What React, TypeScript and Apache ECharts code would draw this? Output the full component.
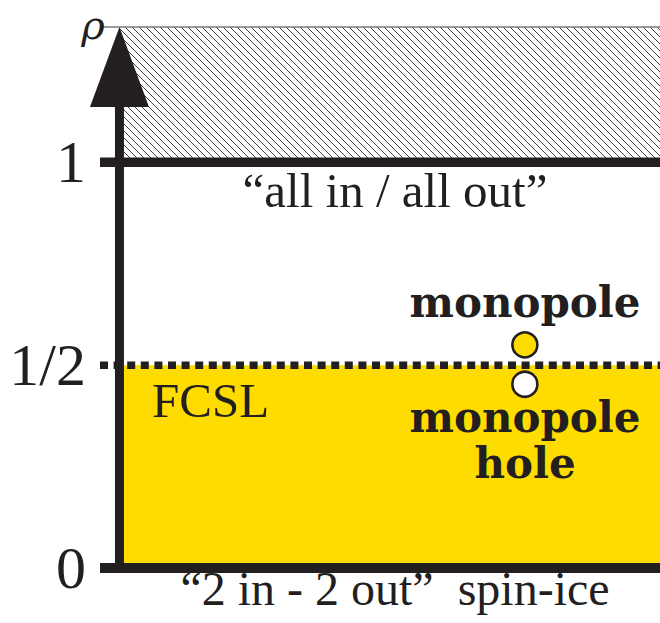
import React, { useEffect, useRef } from 'react';
import * as echarts from 'echarts';

// Axis range (rho) and the small left extension used for the tick stubs
const RHO_MAX = 4 / 3;
const X_MIN = -0.036;
const X_MAX = 1;

// Tick values and labels of the rho axis
const TICK_VALUES = [0, 0.5, 1];
const TICK_LABELS = ['0', '1/2', '1'];

// Levels
const LEVEL_ZERO = 0;
const LEVEL_HALF = 0.5;
const LEVEL_ONE = 1;
const AXIS_LINE_TOP = 1.2;

// Excitations [x, rho]
const MONOPOLE = [0.75, 0.55];
const MONOPOLE_HOLE = [0.75, 0.453];

const INK = '#231f20';
const YELLOW = '#ffdc00';
const SERIF = '"Liberation Serif", "Times New Roman", serif';
const BOLD_SERIF = '"DejaVu Serif", "Liberation Serif", serif';

function makeHatch(): HTMLCanvasElement {
  const s = 7;
  const c = document.createElement('canvas');
  c.width = s;
  c.height = s;
  const ctx = c.getContext('2d')!;
  ctx.fillStyle = '#ffffff';
  ctx.fillRect(0, 0, s, s);
  ctx.strokeStyle = '#404040';
  ctx.lineWidth = 1;
  for (const k of [-s, 0, s]) {
    ctx.beginPath();
    ctx.moveTo(k, 0);
    ctx.lineTo(k + s, s);
    ctx.stroke();
  }
  return c;
}

function hLine(name: string, rho: number, width: number, color: string, type: any, z: number) {
  return {
    name,
    type: 'line',
    data: [
      [X_MIN, rho],
      [X_MAX, rho],
    ],
    symbol: 'none',
    clip: false,
    silent: true,
    z,
    lineStyle: { width, color, type, cap: 'butt', opacity: 1 },
  };
}

export default function App() {
  const ref = useRef<HTMLDivElement>(null);

  useEffect(() => {
    document.body.style.margin = '0';
    const chart = echarts.init(ref.current!, null, { renderer: 'svg' });
    const hatch = makeHatch();

    const option: any = {
      animation: false,
      backgroundColor: '#ffffff',
      grid: { left: 100, right: 0, top: 27, bottom: 55, containLabel: false },
      xAxis: { type: 'value', min: X_MIN, max: X_MAX, show: false },
      yAxis: {
        type: 'value',
        min: 0,
        max: RHO_MAX,
        interval: 0.5,
        axisLine: { show: false, onZero: false },
        axisTick: { show: false },
        splitLine: { show: false },
        axisLabel: {
          margin: 14,
          fontSize: 60,
          fontFamily: SERIF,
          color: INK,
          formatter: (v: number) => {
            const i = TICK_VALUES.findIndex((t) => Math.abs(t - v) < 1e-9);
            return i >= 0 ? TICK_LABELS[i] : '';
          },
        },
      },
      series: [
        {
          name: 'regions',
          type: 'line',
          data: [[X_MIN, LEVEL_ZERO]],
          symbol: 'none',
          silent: true,
          z: 1,
          lineStyle: { width: 0 },
          markArea: {
            silent: true,
            label: { show: false },
            data: [
              [
                { coord: [0, LEVEL_ZERO], itemStyle: { color: YELLOW, opacity: 1 } },
                { coord: [X_MAX, LEVEL_HALF] },
              ],
              [
                {
                  coord: [0, LEVEL_ONE],
                  itemStyle: {
                    opacity: 1,
                    color: { image: hatch, repeat: 'repeat', imageWidth: 7, imageHeight: 7 },
                  },
                },
                { coord: [X_MAX, RHO_MAX] },
              ],
            ],
          },
        },
        hLine('top edge', RHO_MAX, 1.3, '#7a7a7a', 'solid', 3),
        hLine('rho = 1', LEVEL_ONE, 9.5, INK, 'solid', 4),
        hLine('rho = 0', LEVEL_ZERO, 10, INK, 'solid', 4),
        hLine('rho = 1/2', LEVEL_HALF, 7.5, INK, [8, 5.6], 4),
        {
          name: 'rho axis',
          type: 'line',
          data: [
            [0, LEVEL_ZERO],
            [0, AXIS_LINE_TOP],
          ],
          symbol: 'none',
          clip: false,
          silent: true,
          z: 5,
          lineStyle: { width: 9, color: INK, cap: 'butt', opacity: 1 },
        },
        {
          name: 'arrow',
          type: 'scatter',
          data: [[0, RHO_MAX]],
          symbol: 'triangle',
          symbolSize: [59, 80],
          symbolOffset: [0, '50%'],
          clip: false,
          silent: true,
          z: 6,
          itemStyle: { color: INK, opacity: 1 },
        },
        {
          name: 'monopole',
          type: 'scatter',
          data: [MONOPOLE],
          symbol: 'circle',
          symbolSize: 25,
          clip: false,
          silent: true,
          z: 7,
          itemStyle: { color: YELLOW, borderColor: INK, borderWidth: 2.6, opacity: 1 },
        },
        {
          name: 'monopole hole',
          type: 'scatter',
          data: [MONOPOLE_HOLE],
          symbol: 'circle',
          symbolSize: 25,
          clip: false,
          silent: true,
          z: 7,
          itemStyle: { color: '#ffffff', borderColor: INK, borderWidth: 2.6, opacity: 1 },
        },
      ],
      graphic: [
        {
          type: 'text',
          x: 93,
          y: 24.5,
          z: 100,
          style: {
            text: 'ρ',
            fill: INK,
            fontSize: 40,
            lineHeight: 36,
            fontStyle: 'italic',
            fontFamily: BOLD_SERIF,
            align: 'center',
            verticalAlign: 'middle',
          },
        },
        {
          type: 'text',
          x: 395,
          y: 190.5,
          z: 100,
          style: {
            text: '“all in / all out”',
            fill: INK,
            fontSize: 49,
            fontFamily: SERIF,
            align: 'center',
            verticalAlign: 'middle',
          },
        },
        {
          type: 'text',
          x: 395,
          y: 588,
          z: 100,
          style: {
            text: '“2 in - 2 out”\u2002spin-ice',
            fill: INK,
            fontSize: 48,
            fontFamily: SERIF,
            align: 'center',
            verticalAlign: 'middle',
          },
        },
        {
          type: 'text',
          x: 152,
          y: 400.5,
          z: 100,
          style: {
            text: 'FCSL',
            fill: INK,
            fontSize: 49,
            fontFamily: SERIF,
            align: 'left',
            verticalAlign: 'middle',
          },
        },
        {
          type: 'text',
          x: 525,
          y: 302.5,
          z: 100,
          style: {
            text: 'monopole',
            fill: INK,
            fontSize: 42,
            fontWeight: 'bold',
            fontFamily: BOLD_SERIF,
            align: 'center',
            verticalAlign: 'middle',
          },
        },
        {
          type: 'text',
          x: 525,
          y: 417.5,
          z: 100,
          style: {
            text: 'monopole',
            fill: INK,
            fontSize: 42,
            fontWeight: 'bold',
            fontFamily: BOLD_SERIF,
            align: 'center',
            verticalAlign: 'middle',
          },
        },
        {
          type: 'text',
          x: 525,
          y: 463.5,
          z: 100,
          style: {
            text: 'hole',
            fill: INK,
            fontSize: 42,
            fontWeight: 'bold',
            fontFamily: BOLD_SERIF,
            align: 'center',
            verticalAlign: 'middle',
          },
        },
      ],
    };

    chart.setOption(option);
    return () => chart.dispose();
  }, []);

  return <div ref={ref} style={{ width: 660, height: 623 }} />;
}
